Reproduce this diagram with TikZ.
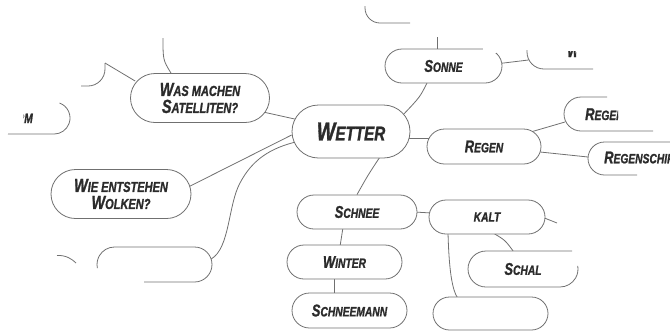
\documentclass[tikz,border=0pt]{standalone}
\usepackage{fontspec}
\setmainfont{Liberation Sans}[FakeStretch=0.76, BoldItalicFeatures={FakeBold=1.2}]
\usetikzlibrary{calc}
\pgfdeclarelayer{bg}
\pgfsetlayers{bg,main}
\definecolor{ln}{HTML}{707070}
\definecolor{tx}{HTML}{2B2B2B}
\newcommand\capsm[4]{{\fontsize{#1}{17}\selectfont #3}{\fontsize{#2}{17}\selectfont #4}}
\tikzset{
  pill/.style={draw=ln, line width=0.8pt, fill=white, text=tx, font=\bfseries\itshape\fontsize{14}{17}\selectfont, inner sep=0pt, align=center},
  conn/.style={draw=ln, line width=0.8pt},
  lbl/.style={text=tx, font=\bfseries\itshape\fontsize{14}{17}\selectfont, inner sep=0pt, align=center},
}
\begin{document}
\begin{tikzpicture}[x=1pt,y=-1pt]
\useasboundingbox (0,0) rectangle (670,333);
\clip (0,0) rectangle (670,333);

% full nodes
\node[pill, minimum width=118pt, minimum height=53pt, rounded corners=26.5pt] (wetter) at (351,131.5) {\capsm{26}{20}{W}{ETTER}};
\node[pill, minimum width=139pt, minimum height=49pt, rounded corners=24.5pt] (was) at (200,98) {\capsm{19}{14.5}{W}{AS MACHEN}\\\capsm{19}{14.5}{S}{ATELLITEN?}};
\node[pill, minimum width=140pt, minimum height=49pt, rounded corners=24.5pt] (wie) at (121,194) {\capsm{19}{14.5}{W}{IE ENTSTEHEN}\\\capsm{19}{14.5}{W}{OLKEN?}};
\node[pill, minimum width=117pt, minimum height=34pt, rounded corners=17pt] (sonne) at (443.5,66) {\capsm{17}{13.5}{S}{ONNE}};
\node[pill, minimum width=114pt, minimum height=35pt, rounded corners=17.5pt] (regen) at (484,146.5) {\capsm{17}{13.5}{R}{EGEN}};
\node[pill, minimum width=120pt, minimum height=34pt, rounded corners=17pt] (schnee) at (357,212) {\capsm{17}{13.5}{S}{CHNEE}};
\node[pill, minimum width=115pt, minimum height=34pt, rounded corners=17pt] (winter) at (344.5,262) {\capsm{17}{13.5}{W}{INTER}};
\node[pill, minimum width=115pt, minimum height=35pt, rounded corners=17.5pt] (schneemann) at (349.5,310.5) {\capsm{17}{13.5}{S}{CHNEEMANN}};
\node[pill, minimum width=116pt, minimum height=34pt, rounded corners=17pt] (kalt) at (487,217) {{\fontsize{13.5}{17}\selectfont KALT}};
\node[pill, minimum width=115pt, minimum height=33pt, rounded corners=16.5pt] (leer2) at (490.5,313.5) {};
\node[lbl, minimum width=110pt, minimum height=36pt] (schal) at (523,269) {\capsm{17}{13.5}{S}{CHAL}};
\node[inner sep=0pt, minimum width=115pt, minimum height=35pt] (leer1) at (154.5,264.5) {};

% gap in the Sonne outline
\fill[white] (483,45) rectangle (496,52.5);

% connectors
\begin{pgfonlayer}{bg}
\draw[conn] (was.center) -- (wetter.center);
\coordinate (wasTop) at (163,38);
\draw[conn] (wasTop) .. controls (163,60) .. ([shift={(-29,0)}]was.north);
\coordinate (lbC) at (105,63);
\draw[conn] ([shift={(5,-17)}]was.west) -- (lbC);
\draw[conn] ([shift={(0,3.5)}]wetter.west) -- ([shift={(-21,2)}]wie.east);
\draw[conn] ([shift={(-1,-5.5)}]leer1.east) .. controls (230,248) and (228,205) .. (240,183) .. controls (252,160) and (270,148) .. ([shift={(6,10)}]wetter.west);
\draw[conn] ([shift={(-16.5,17)}]sonne.center) .. controls (420,97) .. ([shift={(-7,-17)}]wetter.east);
\coordinate (sTop) at (437,37);
\draw[conn] (sTop) -- ([shift={(-6.5,5)}]sonne.north);
\coordinate (wL) at (528.5,60);
\draw[conn] ([shift={(-7,-2)}]sonne.east) -- (wL);
\draw[conn] ([shift={(-5,6.5)}]wetter.east) -- ([shift={(5,-8.5)}]regen.west);
\coordinate (rbL) at (565,122);
\draw[conn] ([shift={(-9,-15)}]regen.east) -- (rbL);
\coordinate (rsL) at (588,157);
\draw[conn] ([shift={(-6,5)}]regen.east) -- (rsL);
\draw[conn] ([shift={(30,-3)}]wetter.south) .. controls (368,175) .. (schnee.north);
\draw[conn] ([shift={(-14,-2)}]schnee.south) -- ([shift={(-4.5,2)}]winter.north);
\draw[conn] ([shift={(-10.5,-2)}]winter.south) -- ([shift={(-15.5,2)}]schneemann.north);
\draw[conn] ([shift={(-3,0)}]schnee.east) -- ([shift={(3,-4)}]kalt.west);
\coordinate (kR) at (557,223);
\draw[conn] ([shift={(-6,-1)}]kalt.east) -- (kR);
\draw[conn] ([shift={(5,-2)}]kalt.south) .. controls (505,240) .. ([shift={(-10,0)}]schal.north);
\draw[conn] ([shift={(-39,-2)}]kalt.south) .. controls (449,270) and (452,290) .. ([shift={(-32.5,2)}]leer2.north);
\end{pgfonlayer}

% partially erased outlines
\draw[conn] (365,6) -- (365,8) arc[start angle=180,end angle=90,radius=15] -- (410,23);
\draw[conn] (lbC) -- (105,69) arc[start angle=0,end angle=90,radius=17] -- (81,86);
\draw[conn] (59.5,103) arc[start angle=290,end angle=450,radius=16] -- (8,134);
\draw[conn] (527,50) -- (527,52) arc[start angle=180,end angle=90,radius=17] -- (593,69);
\draw[conn] (607,97) -- (581,97) arc[start angle=270,end angle=90,radius=17] -- (653,131);
\draw[conn] (671,142) -- (604.5,142) arc[start angle=270,end angle=90,radius=16.5] -- (637,175);
\draw[conn] (572,251) -- (486,251) arc[start angle=270,end angle=90,radius=18] -- (560,287) arc[start angle=90,end angle=-10,radius=18];
\draw[conn] (144,282) -- (194.5,282) arc[start angle=90,end angle=-90,radius=17.5] -- (114.5,247) arc[start angle=270,end angle=168,radius=17.5];
\draw[conn] (57,255.5) .. controls (66,255) and (72,259) .. (76,263);

% partially erased texts
\begin{scope}
\clip (23.5,100) rectangle (40,135);
\node[lbl, anchor=base east] (sturm) at (33,123) {\capsm{17}{13.5}{S}{TURM}};
\end{scope}
\begin{scope}
\clip (560,51) rectangle (576,70);
\node[lbl, anchor=base west] (waerme) at (567,57) {\capsm{17}{13.5}{W}{ÄRME}};
\end{scope}
\begin{scope}
\clip (580,100) rectangle (618,130);
\node[lbl, anchor=base west] (rbogen) at (585,120) {\capsm{17}{13.5}{R}{EGENBOGEN}};
\end{scope}
\node[lbl, anchor=base west] (rschirm) at (604,163.3) {\capsm{17}{13.5}{R}{EGENSCHIRM}};
\end{tikzpicture}
\end{document}
